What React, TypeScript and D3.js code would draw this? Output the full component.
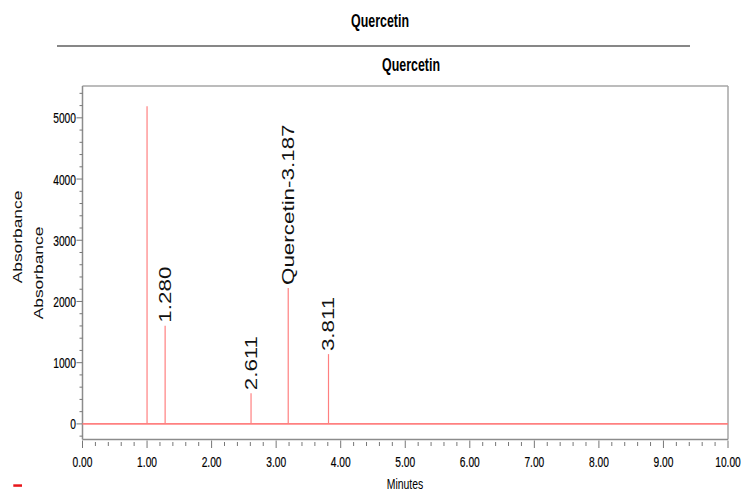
import React from "react";
import * as d3 from "d3";

// Chromatogram: retention times (min) and peak heights (absorbance)
const peakTimes = [1.0, 1.28, 2.611, 3.187, 3.811];
const peakHeights = [5190, 1605, 500, 2220, 1140];
const peakLabels = ["", "1.280", "2.611", "Quercetin-3.187", "3.811"];

const xMajorTicks = [0, 1, 2, 3, 4, 5, 6, 7, 8, 9, 10];
const yMajorTicks = [0, 1000, 2000, 3000, 4000, 5000];

const W = 742;
const H = 493;
const left = 82.5;
const right = 728;
const top = 86;
const bottom = 439.5;

const traceColor = "#ff8080";

export default function App() {
  const x = d3.scaleLinear().domain([0, 10]).range([left, right]);
  const y = d3.scaleLinear().domain([-255, 5520]).range([bottom, top]);

  const xMinor = d3.range(0, 10.0001, 0.2).filter((v) => Math.abs(v - Math.round(v)) > 1e-6);
  const yMinor = d3.range(-200, 5401, 200).filter((v) => v % 1000 !== 0);

  const line = d3.line<[number, number]>().x((d) => x(d[0])).y((d) => y(d[1]));
  const baseline = line([[0, 0], [10, 0]]) as string;

  const font = "Liberation Sans, Arial, sans-serif";

  return (
    <svg
      width={W}
      height={H}
      style={{ position: "absolute", left: 0, top: 0, background: "#fff" }}
      fontFamily={font}
    >
      {/* titles */}
      <text
        transform={`translate(380,26.5) scale(0.69,1)`}
        textAnchor="middle"
        fontSize={18}
        fontWeight="bold"
        fill="#000"
      >
        Quercetin
      </text>
      <line x1={57} x2={690} y1={46} y2={46} stroke="#111" strokeWidth={1.2} />
      <text
        transform={`translate(411,70.5) scale(0.69,1)`}
        textAnchor="middle"
        fontSize={18}
        fontWeight="bold"
        fill="#000"
      >
        Quercetin
      </text>

      {/* plot frame */}
      <line x1={left} x2={right} y1={top} y2={top} stroke="#a6a6a6" strokeWidth={1.5} />
      <line x1={right} x2={right} y1={top} y2={bottom} stroke="#a6a6a6" strokeWidth={1.5} />
      <line x1={left} x2={left} y1={top} y2={bottom} stroke="#8c8c8c" strokeWidth={1.5} />
      <line x1={left} x2={right} y1={bottom} y2={bottom} stroke="#8c8c8c" strokeWidth={1.5} />

      {/* y axis ticks */}
      {yMajorTicks.map((v) => (
        <g key={"ym" + v}>
          <line x1={left - 6} x2={left} y1={y(v)} y2={y(v)} stroke="#777" strokeWidth={1} />
          <text
            transform={`translate(${left - 6.5},${y(v)}) scale(0.66,1)`}
            textAnchor="end"
            dy="0.36em"
            fontSize={15.5}
            fill="#000"
            stroke="#000"
            strokeWidth={0.2}
          >
            {v}
          </text>
        </g>
      ))}
      {yMinor.map((v) => (
        <line key={"yn" + v} x1={left - 3} x2={left} y1={y(v)} y2={y(v)} stroke="#777" strokeWidth={1} />
      ))}

      {/* x axis ticks */}
      {xMajorTicks.map((v) => (
        <g key={"xm" + v}>
          <line x1={x(v)} x2={x(v)} y1={bottom + 1} y2={bottom + 8.5} stroke="#777" strokeWidth={1} />
          <text
            transform={`translate(${x(v)},467) scale(0.66,1)`}
            textAnchor="middle"
            fontSize={15.5}
            fill="#000"
            stroke="#000"
            strokeWidth={0.2}
          >
            {v.toFixed(2)}
          </text>
        </g>
      ))}
      {xMinor.map((v) => (
        <line key={"xn" + v} x1={x(v)} x2={x(v)} y1={bottom + 2.5} y2={bottom + 6.5} stroke="#777" strokeWidth={1} />
      ))}

      {/* axis titles */}
      <text
        transform={`translate(405,489) scale(0.72,1)`}
        textAnchor="middle"
        fontSize={14.5}
        fill="#000"
      >
        Minutes
      </text>
      <text
        transform={`translate(21.7,237) rotate(-90) scale(1.39,1)`}
        textAnchor="middle"
        fontSize={12.5}
        fill="#111"
      >
        Absorbance
      </text>
      <text
        transform={`translate(43.3,273) rotate(-90) scale(1.39,1)`}
        textAnchor="middle"
        fontSize={12.5}
        fill="#111"
      >
        Absorbance
      </text>

      {/* trace */}
      <path d={baseline} stroke={traceColor} strokeWidth={1.6} fill="none" />
      {peakTimes.map((t, i) => (
        <path
          key={"p" + i}
          d={line([[t, 0], [t, peakHeights[i]]]) as string}
          stroke={traceColor}
          strokeWidth={1.2}
          fill="none"
        />
      ))}

      {/* peak labels */}
      {peakTimes.map((t, i) =>
        peakLabels[i] ? (
          <text
            key={"l" + i}
            transform={`translate(${x(t)},${y(peakHeights[i]) - 3}) rotate(-90) scale(1.4,1)`}
            textAnchor="start"
            dy="0.36em"
            fontSize={16}
            fill="#111"
          >
            {peakLabels[i]}
          </text>
        ) : null
      )}

      {/* red marker */}
      <rect x={13.3} y={484.3} width={8.7} height={2.5} fill="#e8161b" />
    </svg>
  );
}
